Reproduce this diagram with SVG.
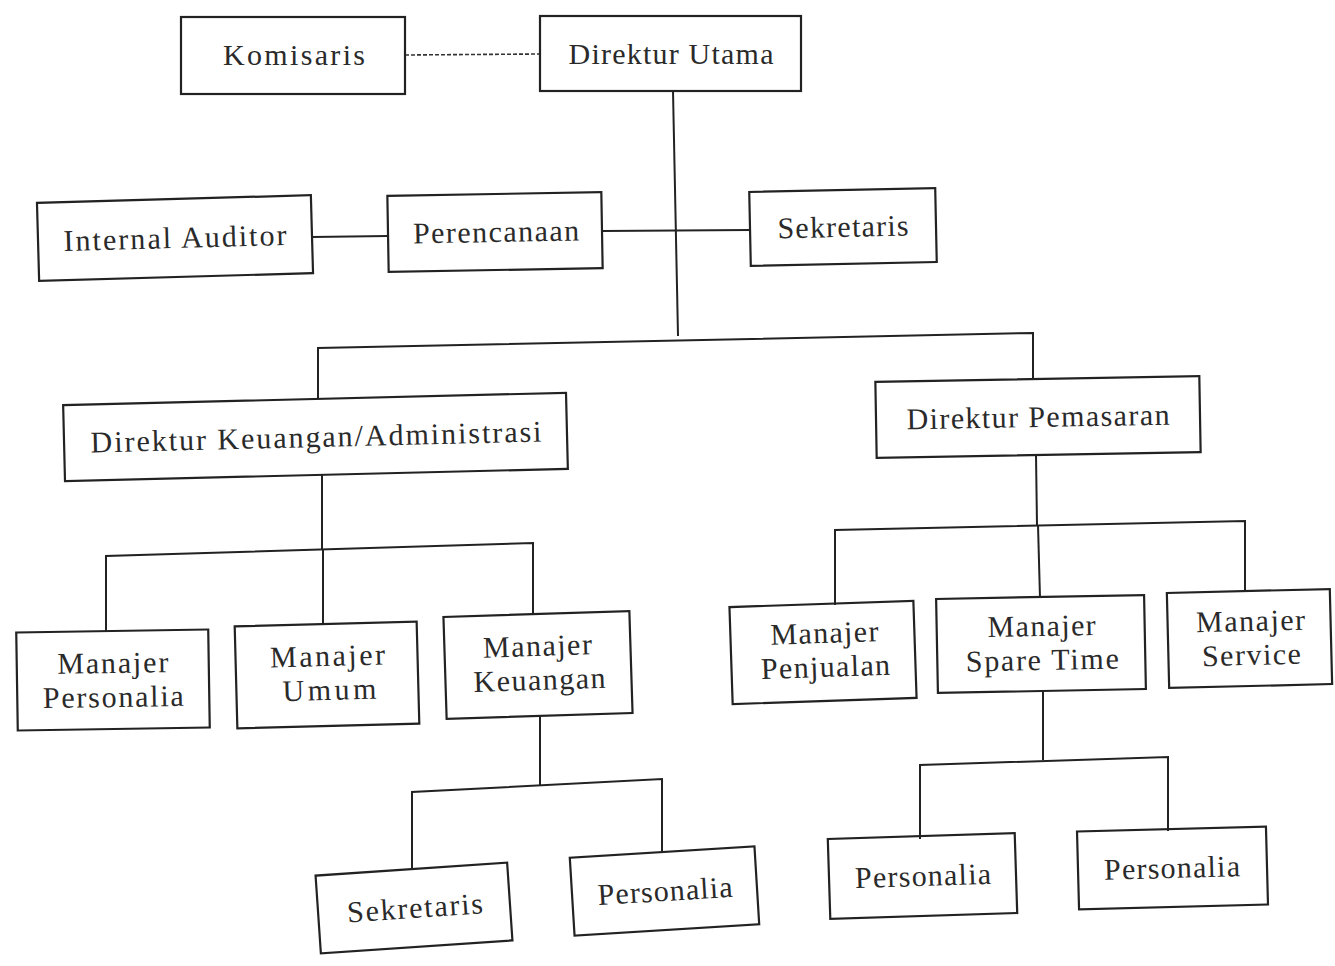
<svg xmlns="http://www.w3.org/2000/svg" width="1335" height="966" viewBox="0 0 1335 966">
<style>
.b{fill:none;stroke:#222;stroke-width:2.2}
.t{font-family:"Liberation Serif","Times New Roman",serif;font-size:30px;fill:#2a2a2a;text-anchor:middle}
.c{fill:none;stroke:#222;stroke-width:2}
.d{fill:none;stroke:#333;stroke-width:1.6;stroke-dasharray:4 2}
</style>
<rect width="1335" height="966" fill="#fff"/>
<g id="connectors">
<path class="d" d="M405 55 L540 54"/>
<path class="c" d="M673 91 L678 336"/>
<path class="c" d="M312 237 L388 236"/>
<path class="c" d="M603 231 L750 230"/>
<path class="c" d="M318 399 L318 348 L1033 333 L1033 380"/>
<path class="c" d="M322 474 L322 550"/>
<path class="c" d="M106 632 L106 556 L533 543 L533 615"/>
<path class="c" d="M323 550 L323 625"/>
<path class="c" d="M540 717 L540 785"/>
<path class="c" d="M412 870 L412 792 L662 779 L662 852"/>
<path class="c" d="M1036 455 L1037 525"/>
<path class="c" d="M835 605 L835 530 L1245 521 L1245 591"/>
<path class="c" d="M1038 525 L1040 598"/>
<path class="c" d="M1043 692 L1043 760"/>
<path class="c" d="M920 839 L920 765 L1168 757 L1168 831"/>
</g>
<g id="komisaris"><rect class="b" x="181" y="17" width="224" height="77"/><text class="t" x="294" y="65" textLength="142" lengthAdjust="spacing">Komisaris</text></g>
<g id="direktur-utama"><rect class="b" x="540" y="16" width="261" height="75"/><text class="t" x="671" y="64" textLength="205" lengthAdjust="spacing">Direktur Utama</text></g>
<g id="internal-auditor" transform="rotate(-1.6 175 238)"><rect class="b" x="38" y="199" width="274" height="78"/><text class="t" x="175" y="248" textLength="223" lengthAdjust="spacing">Internal Auditor</text></g>
<g id="perencanaan" transform="rotate(-1 495 232)"><rect class="b" x="388" y="194" width="214" height="76"/><text class="t" x="496" y="242" textLength="166" lengthAdjust="spacing">Perencanaan</text></g>
<g id="sekretaris" transform="rotate(-1.2 843 227)"><rect class="b" x="750" y="190" width="186" height="74"/><text class="t" x="843" y="237" textLength="131" lengthAdjust="spacing">Sekretaris</text></g>
<g id="direktur-keuangan" transform="rotate(-1.4 315 437)"><rect class="b" x="64" y="399" width="503" height="76"/><text class="t" x="316" y="447" textLength="451" lengthAdjust="spacing">Direktur Keuangan/Administrasi</text></g>
<g id="direktur-pemasaran" transform="rotate(-1 1038 417)"><rect class="b" x="876" y="379" width="324" height="76"/><text class="t" x="1038" y="427" textLength="263" lengthAdjust="spacing">Direktur Pemasaran</text></g>
<g id="manajer-personalia" transform="rotate(-0.9 113 680)"><rect class="b" x="17" y="631" width="192" height="98"/><text class="t" x="113" y="673" textLength="111" lengthAdjust="spacing">Manajer</text><text class="t" x="113" y="707" textLength="141" lengthAdjust="spacing">Personalia</text></g>
<g id="manajer-umum" transform="rotate(-1.5 327 675)"><rect class="b" x="236" y="624" width="182" height="102"/><text class="t" x="328" y="666" textLength="115" lengthAdjust="spacing">Manajer</text><text class="t" x="329" y="700" textLength="94" lengthAdjust="spacing">Umum</text></g>
<g id="manajer-keuangan" transform="rotate(-1.8 538 665)"><rect class="b" x="445" y="614" width="186" height="102"/><text class="t" x="538" y="656" textLength="109" lengthAdjust="spacing">Manajer</text><text class="t" x="539" y="690" textLength="132" lengthAdjust="spacing">Keuangan</text></g>
<g id="manajer-penjualan" transform="rotate(-1.9 823 652)"><rect class="b" x="731" y="604" width="184" height="97"/><text class="t" x="825" y="643" textLength="108" lengthAdjust="spacing">Manajer</text><text class="t" x="825" y="677" textLength="129" lengthAdjust="spacing">Penjualan</text></g>
<g id="manajer-spare-time" transform="rotate(-1.1 1041 644)"><rect class="b" x="937" y="597" width="208" height="94"/><text class="t" x="1042" y="636" textLength="108" lengthAdjust="spacing">Manajer</text><text class="t" x="1042" y="670" textLength="153" lengthAdjust="spacing">Spare Time</text></g>
<g id="manajer-service" transform="rotate(-1.4 1250 639)"><rect class="b" x="1168" y="591" width="163" height="95"/><text class="t" x="1251" y="631" textLength="109" lengthAdjust="spacing">Manajer</text><text class="t" x="1251" y="665" textLength="99" lengthAdjust="spacing">Service</text></g>
<g id="sekretaris-2" transform="rotate(-3.9 414 908)"><rect class="b" x="318" y="869" width="192" height="78"/><text class="t" x="415" y="918" textLength="136" lengthAdjust="spacing">Sekretaris</text></g>
<g id="personalia-1" transform="rotate(-3.5 664 891)"><rect class="b" x="572" y="852" width="185" height="78"/><text class="t" x="665" y="901" textLength="135" lengthAdjust="spacing">Personalia</text></g>
<g id="personalia-2" transform="rotate(-1.8 922 876)"><rect class="b" x="829" y="836" width="187" height="80"/><text class="t" x="923" y="886" textLength="136" lengthAdjust="spacing">Personalia</text></g>
<g id="personalia-3" transform="rotate(-1.5 1172 868)"><rect class="b" x="1078" y="829" width="189" height="78"/><text class="t" x="1172" y="878" textLength="136" lengthAdjust="spacing">Personalia</text></g>
</svg>
